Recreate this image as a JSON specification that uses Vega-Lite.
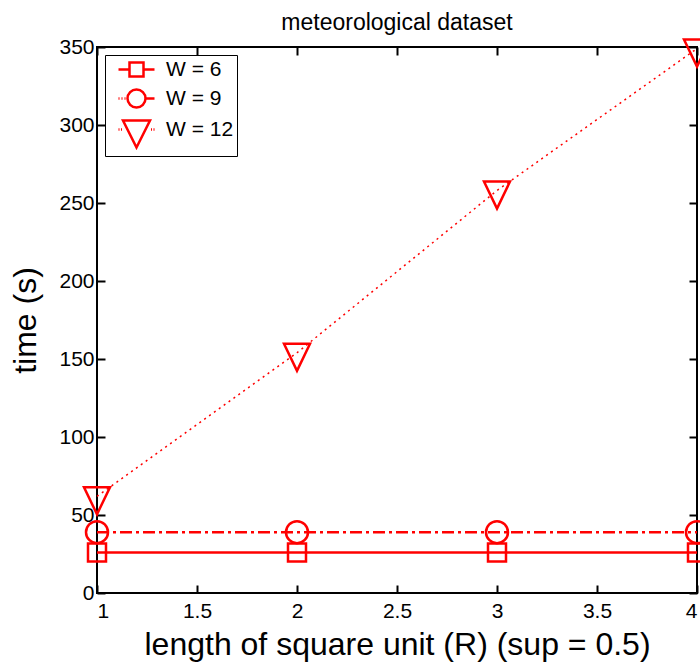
{
  "$schema": "https://vega.github.io/schema/vega-lite/v6.json",
  "autosize": "none",
  "width": 600,
  "height": 546,
  "padding": {"left": 97, "top": 47, "right": 3, "bottom": 76},
  "background": "white",
  "title": {"text": "meteorological dataset", "font": "Liberation Sans", "fontSize": 23, "fontWeight": "normal", "color": "black", "offset": 0},
  "config": {
    "view": {"stroke": "black", "strokeWidth": 2},
    "axis": {"domain": false, "grid": false, "labelFont": "Liberation Sans", "labelFontSize": 21, "labelColor": "black", "tickColor": "black", "tickWidth": 2, "tickSize": -8, "titleFont": "Liberation Sans", "titleFontSize": 32, "titleFontWeight": "normal", "titleColor": "black"}
  },
  "resolve": {"axis": {"x": "independent", "y": "independent"}, "scale": {"shape": "independent"}},
  "data": {"values": [
    {"R": 1, "time": 26, "W": "W = 6"},
    {"R": 2, "time": 26, "W": "W = 6"},
    {"R": 3, "time": 26, "W": "W = 6"},
    {"R": 4, "time": 26, "W": "W = 6"},
    {"R": 1, "time": 39, "W": "W = 9"},
    {"R": 2, "time": 39, "W": "W = 9"},
    {"R": 3, "time": 39, "W": "W = 9"},
    {"R": 4, "time": 39, "W": "W = 9"},
    {"R": 1, "time": 62, "W": "W = 12"},
    {"R": 2, "time": 154, "W": "W = 12"},
    {"R": 3, "time": 258, "W": "W = 12"},
    {"R": 4, "time": 349, "W": "W = 12"}
  ]},
  "encoding": {
    "x": {"field": "R", "type": "quantitative", "scale": {"domain": [1, 4], "nice": false, "zero": false}},
    "y": {"field": "time", "type": "quantitative", "scale": {"domain": [0, 350], "nice": false}}
  },
  "layer": [
    {
      "transform": [{"filter": "datum.W === 'W = 6'"}],
      "mark": {"type": "line", "color": "red", "strokeWidth": 2.5, "clip": false},
      "encoding": {
        "x": {"field": "R", "type": "quantitative", "axis": {"values": [1, 1.5, 2, 2.5, 3, 3.5, 4], "format": "~g", "title": "length of square unit (R) (sup = 0.5)", "labelPadding": 15, "titleY": 36}},
        "y": {"field": "time", "type": "quantitative", "axis": {"values": [0, 50, 100, 150, 200, 250, 300, 350], "title": "time (s)", "labelPadding": 11, "titleX": -55}}
      }
    },
    {
      "transform": [{"filter": "datum.W === 'W = 9'"}],
      "mark": {"type": "line", "color": "red", "strokeWidth": 2.5, "strokeDash": [12, 4, 3, 4], "clip": false},
      "encoding": {
        "x": {"field": "R", "type": "quantitative", "axis": null},
        "y": {"field": "time", "type": "quantitative", "axis": null}
      }
    },
    {
      "transform": [{"filter": "datum.W === 'W = 12'"}],
      "mark": {"type": "line", "color": "red", "strokeWidth": 1.5, "strokeDash": [2, 4], "clip": false},
      "encoding": {
        "x": {"field": "R", "type": "quantitative", "axis": null},
        "y": {"field": "time", "type": "quantitative", "axis": null}
      }
    },
    {
      "mark": {"type": "point", "color": "red", "filled": false, "strokeWidth": 2.5, "size": 400, "opacity": 1, "clip": false},
      "encoding": {
        "x": {"field": "R", "type": "quantitative", "axis": {"orient": "top", "values": [1, 1.5, 2, 2.5, 3, 3.5, 4], "labels": false, "title": null}},
        "y": {"field": "time", "type": "quantitative", "axis": {"orient": "right", "values": [0, 50, 100, 150, 200, 250, 300, 350], "labels": false, "title": null}},
        "shape": {
          "field": "W", "type": "nominal", "legend": null,
          "scale": {"domain": ["W = 6", "W = 9", "W = 12"], "range": [
            "M-0.9,-0.9L0.9,-0.9L0.9,0.9L-0.9,0.9Z",
            "M-1.1,0A1.1,1.1 0 1,1 1.1,0A1.1,1.1 0 1,1 -1.1,0Z",
            "M-1.3,-0.9L1.3,-0.9L0,1.8Z"
          ]}
        }
      }
    },
    {
      "transform": [{"filter": "datum.R > 100"}],
      "mark": {"type": "point", "color": "red", "filled": false, "strokeWidth": 2.5, "size": 400, "clip": false},
      "encoding": {
        "x": {"field": "R", "type": "quantitative", "axis": null},
        "y": {"field": "time", "type": "quantitative", "axis": null},
        "shape": {
          "field": "W", "type": "nominal",
          "scale": {"domain": ["W = 6", "W = 9", "W = 12"], "range": [
            "M-1.8,0L-0.7,0M0.7,0L1.8,0M-0.7,-0.7L0.7,-0.7L0.7,0.7L-0.7,0.7Z",
            "M-1.8,0L-1.7,0M-1.5,0L-1.4,0M-1.2,0L-1.1,0M0.9,0L1.8,0M-0.9,0A0.9,0.9 0 1,1 0.9,0A0.9,0.9 0 1,1 -0.9,0Z",
            "M-1.8,0L-1.7,0M-1.55,0L-1.45,0M1.45,0L1.55,0M1.7,0L1.8,0M-1.35,-0.9L1.35,-0.9L0,1.8Z"
          ]},
          "legend": {
            "title": null, "orient": "top-left", "offset": 8,
            "labelFont": "Liberation Sans", "labelFontSize": 21, "labelColor": "black",
            "symbolSize": 400, "symbolStrokeWidth": 2.5, "symbolStrokeColor": "red", "symbolFillColor": "transparent", "symbolOpacity": 1,
            "symbolOffset": 17, "rowPadding": 2, "labelOffset": 18,
            "strokeColor": "black", "fillColor": "white", "padding": 3
          }
        }
      }
    }
  ]
}
